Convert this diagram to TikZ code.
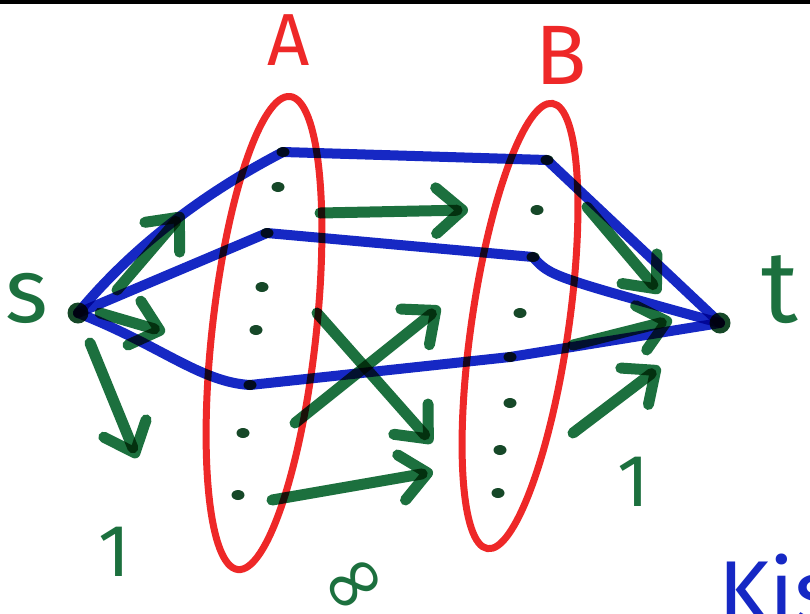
\documentclass[tikz,border=0pt]{standalone}
\usepackage{fontspec}
\setsansfont{Fira Sans}
\newfontfamily\symbfont{DejaVu Sans}
\usetikzlibrary{arrows.meta,shapes.geometric}
\definecolor{penRed}{RGB}{238,40,40}
\definecolor{penBlue}{RGB}{22,40,196}
\definecolor{penGreen}{RGB}{28,112,62}
\definecolor{penDot}{RGB}{22,72,40}

\begin{document}
\begin{tikzpicture}[x=0.02cm,y=-0.02cm,
  lobe/.style={draw=penRed,line width=0.14cm,ellipse,inner sep=0pt},
  dot/.style={ellipse,fill=penDot,minimum width=0.26cm,minimum height=0.2cm,inner sep=0pt},
  term/.style={circle,fill=penDot,minimum size=0.42cm,inner sep=0pt},
  route/.style={draw=penBlue,line width=0.2cm,line cap=round,line join=round},
  flow/.style={draw=penGreen,line width=0.22cm,line cap=round,-{Straight Barb[length=15pt,width=26pt,round]}},
  lbl/.style={font=\sffamily\fontsize{#1}{#1}\selectfont}]
  \clip (0,0) rectangle (810,613);
  \fill[white] (0,0) rectangle (810,613);
  \fill[black] (0,0) rectangle (810,4);

  \begin{scope}[blend mode=multiply]
  % the two cuts
  \node[lobe,minimum width=9.52cm,minimum height=2.08cm,rotate=83.7] (setA) at (264,333) {};
  \node[lobe,minimum width=9.0cm,minimum height=1.94cm,rotate=81.7] (setB) at (520,326) {};

  % vertices
  \node[term] (s) at (78,313) {};
  \node[term] (t) at (720,323) {};
  \foreach \x/\y [count=\i] in {283/152,278/187,267/233,262/287,256/330,250/385,243/433,238/495}
    \node[dot] (a\i) at (\x,\y) {};
  \foreach \x/\y [count=\i] in {547/160,537/210,533/257,520/313,510/357,510/403,500/450,498/493}
    \node[dot] (b\i) at (\x,\y) {};

  % disjoint paths
  \draw[route] (s.center) .. controls (130,250) and (200,195) .. (a1.center) -- (b1.center) -- (t.center);
  \draw[route] (s.center) -- (a3.center) -- (b3.center) .. controls (550,276) .. (t.center);
  \draw[route] (s.center) .. controls (160,345) and (200,382) .. (a6.center) -- (b5.center) -- (t.center);

  % flow arrows
  \foreach \xa/\ya/\xb/\yb [count=\i] in {117/290/183/213, 100/313/165/332, 90/343/137/458,
      320/213/468/210, 295/423/440/307, 317/313/432/443, 272/500/433/472,
      587/207/660/293, 573/345/672/320, 573/433/660/367} {
    \coordinate (g\i s) at (\xa,\ya);
    \coordinate (g\i e) at (\xb,\yb);
    \draw[flow] (g\i s) -- (g\i e);
  }
  \end{scope}

  % labels
  \node[lbl=42,text=penRed] (labA) at (289,40) {A};
  \node[lbl=48,text=penRed] (labB) at (561,55) {B};
  \node[lbl=52,text=penGreen] (labS) at (27,298) {s};
  \node[lbl=58,text=penGreen] (labT) at (780,290) {t};
  \node[lbl=42,text=penGreen] (capL) at (114,552) {1};
  \node[lbl=42,text=penGreen] (capR) at (633,482) {1};
  \node[lbl=46,text=penGreen,rotate=35,inner sep=0pt,text height=0pt,text depth=0pt] (capM) at (353,583)
    {\makebox[0pt]{\raisebox{-0.32em}{\symbfont ∞}}};
  \node[lbl=50,text=penBlue,anchor=north west] (note) at (712,548) {Kis};
\end{tikzpicture}
\end{document}
